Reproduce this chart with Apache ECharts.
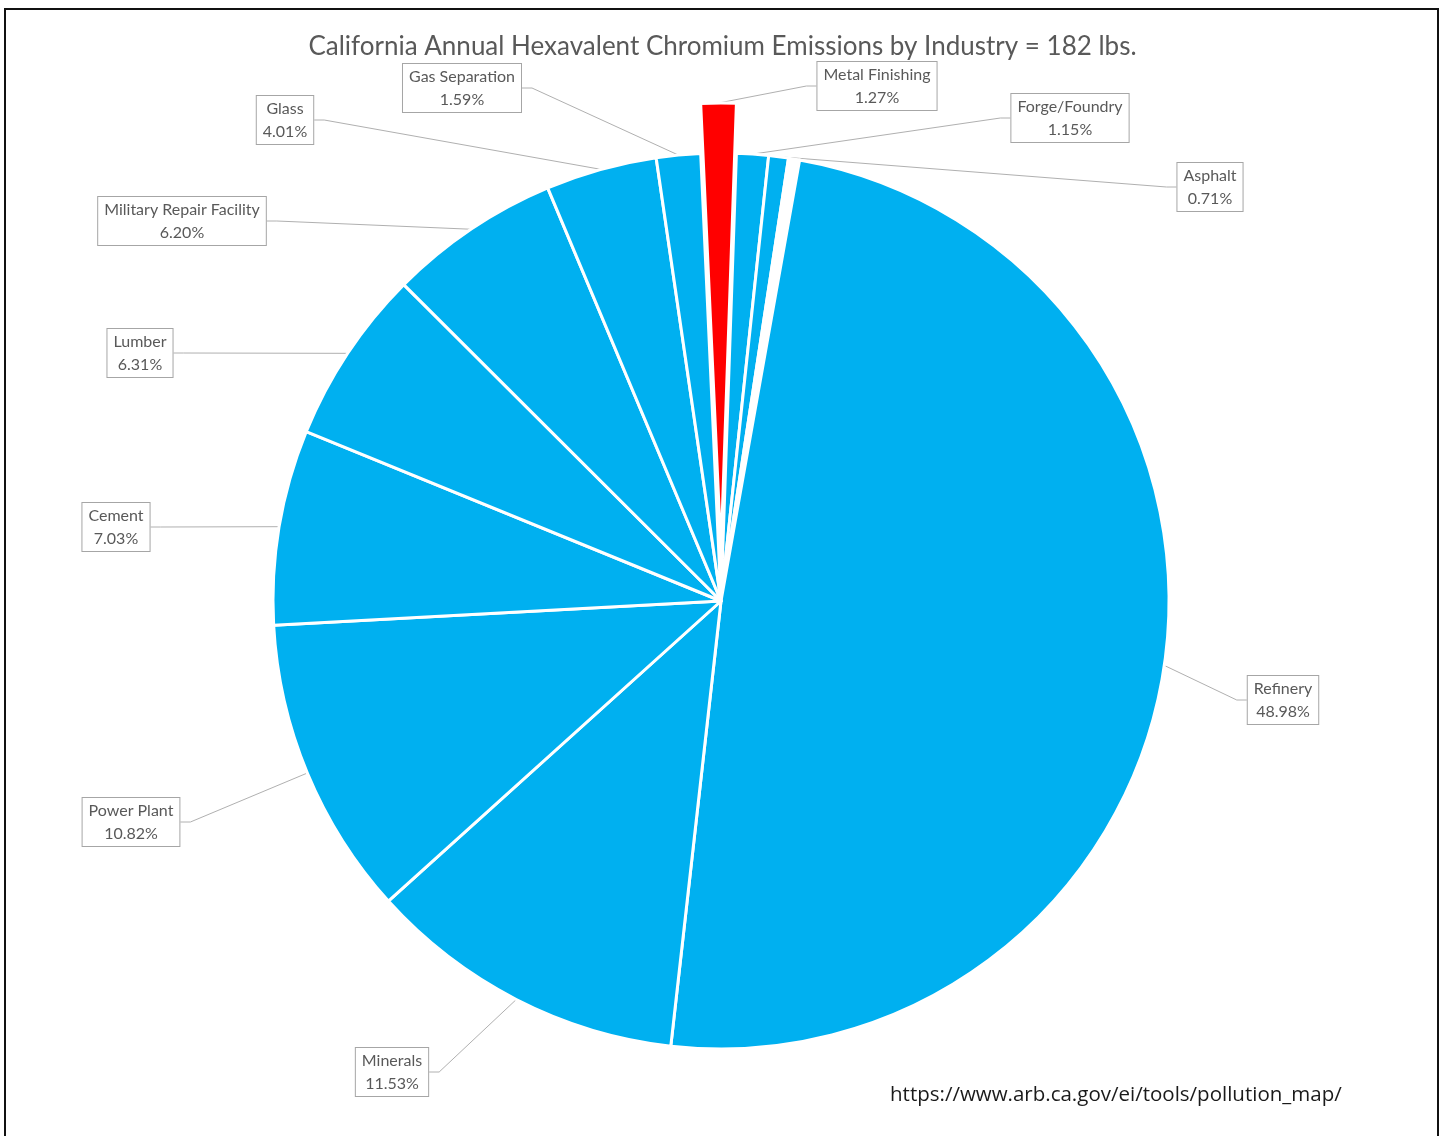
<!DOCTYPE html>
<html>
<head>
<meta charset="utf-8">
<script src="https://cdn.jsdelivr.net/npm/echarts@6/dist/echarts.min.js"></script>
<style>
html,body{margin:0;padding:0;background:#fff;}
#chart{position:absolute;left:0;top:0;width:1445px;height:1136px;}
#frame{position:absolute;left:4px;top:8px;width:1431px;height:1140px;border:2px solid #111;pointer-events:none;}
</style>
</head>
<body>
<div id="chart"></div>
<div id="frame"></div>
<script>
// ---- data ----
const titleText = 'California Annual Hexavalent Chromium Emissions by Industry = 182 lbs.';
const sourceText = 'https://www.arb.ca.gov/ei/tools/pollution_map/';
const categories = ['Metal Finishing', 'Forge/Foundry', 'Asphalt', '', 'Refinery', 'Minerals', 'Power Plant', 'Cement', 'Lumber', 'Military Repair Facility', 'Glass', 'Gas Separation'];
const percents = [1.27, 1.15, 0.71, 0.40, 48.98, 11.53, 10.82, 7.03, 6.31, 6.20, 4.01, 1.59];
const highlighted = 'Metal Finishing';

// label box centres (layout only)
const labelCenters = [
  [877, 86], [1070, 118], [1210, 187], null, [1283, 700], [392, 1072],
  [131, 822], [116, 527], [140, 353], [182, 221], [285, 120], [462, 88]
];

const chart = echarts.init(document.getElementById('chart'), null, {renderer: 'canvas'});

const PIE_CENTER = [721, 601];
const EXPLODE = 50;
const START = 92.6;

const baseLabel = {
  show: true,
  position: 'outside',
  formatter: (p) => p.name + '\n' + p.value.toFixed(2) + '%',
  fontFamily: 'Lato',
  fontSize: 16,
  lineHeight: 23,
  color: '#595959',
  align: 'center',
  backgroundColor: '#ffffff',
  borderColor: '#a6a6a6',
  borderWidth: 1,
  padding: [1, 6, 1, 6]
};
const baseLine = {
  show: true,
  length: 15,
  length2: 10,
  smooth: false,
  lineStyle: {color: '#b0b0b0', width: 1}
};
const layoutFn = function (params) {
  const c = labelCenters[params.dataIndex];
  if (!c) return {};
  return {x: c[0], y: c[1], align: 'center', verticalAlign: 'middle', hideOverlap: false};
};

// main pie: all slices except the exploded one
const mainData = categories.map((name, i) => {
  const hidden = name === '';
  const isHi = name === highlighted;
  return {
    name: name,
    value: percents[i],
    itemStyle: {color: hidden ? '#ffffff' : (isHi ? 'rgba(0,0,0,0)' : '#00B0F0')},
    label: {show: !hidden && !isHi},
    labelLine: {show: !hidden && !isHi}
  };
});
// exploded pie: only the highlighted slice is visible
const explodeData = categories.map((name, i) => {
  const isHi = name === highlighted;
  return {
    name: name,
    value: percents[i],
    itemStyle: isHi ? {color: '#FF0000', borderColor: '#ffffff', borderWidth: 3}
                    : {color: 'rgba(0,0,0,0)', borderWidth: 0},
    label: {show: isHi},
    labelLine: {show: isHi}
  };
});

chart.setOption({
  animation: false,
  backgroundColor: '#ffffff',
  title: {
    text: titleText,
    left: 'center',
    top: 29,
    textStyle: {fontFamily: 'Lato', fontWeight: 'normal', fontSize: 26, color: '#595959'}
  },
  graphic: [{
    type: 'text',
    left: 890,
    top: 1085,
    style: {text: sourceText, fontFamily: 'Open Sans', fontSize: 20.5, fill: '#1a1a1a'}
  }],
  series: [{
    type: 'pie',
    center: PIE_CENTER,
    radius: 448,
    startAngle: START,
    clockwise: true,
    avoidLabelOverlap: false,
    silent: true,
    emphasis: {disabled: true},
    itemStyle: {borderColor: '#ffffff', borderWidth: 3},
    data: mainData,
    label: baseLabel,
    labelLine: baseLine,
    labelLayout: layoutFn
  }, {
    type: 'pie',
    center: [PIE_CENTER[0], PIE_CENTER[1] - EXPLODE],
    radius: 448,
    startAngle: START,
    clockwise: true,
    avoidLabelOverlap: false,
    silent: true,
    z: 3,
    emphasis: {disabled: true},
    data: explodeData,
    label: baseLabel,
    labelLine: baseLine,
    labelLayout: layoutFn
  }]
});
</script>
</body>
</html>
